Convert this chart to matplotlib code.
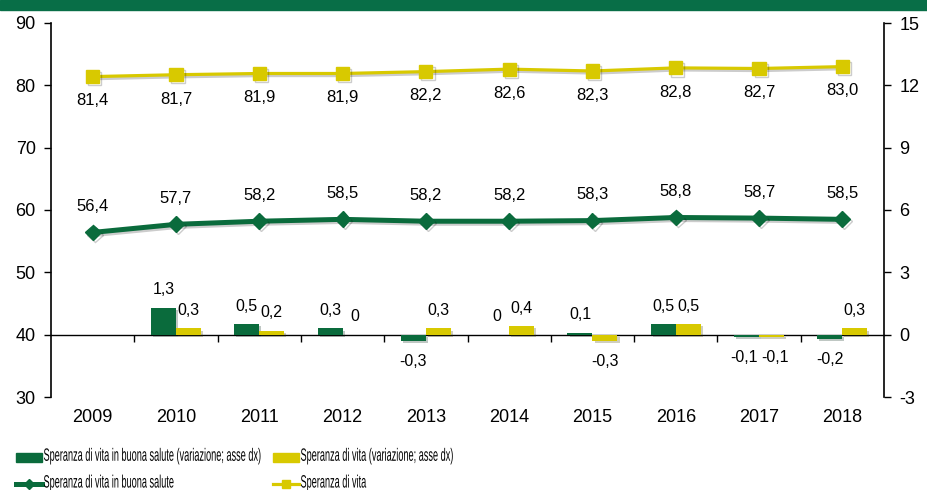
import matplotlib
matplotlib.use("Agg")
import matplotlib.pyplot as plt
import matplotlib.patheffects as pe
from matplotlib.patches import Patch
from matplotlib.lines import Line2D
from matplotlib.transforms import Affine2D

years = ["2009", "2010", "2011", "2012", "2013", "2014", "2015", "2016", "2017", "2018"]
healthy_life = [56.4, 57.7, 58.2, 58.5, 58.2, 58.2, 58.3, 58.8, 58.7, 58.5]
life_exp = [81.4, 81.7, 81.9, 81.9, 82.2, 82.6, 82.3, 82.8, 82.7, 83.0]
healthy_var = [None, 1.3, 0.5, 0.3, -0.3, 0.0, 0.1, 0.5, -0.1, -0.2]
life_var = [None, 0.3, 0.2, 0.0, 0.3, 0.4, -0.3, 0.5, -0.1, 0.3]

left_ticks = [30, 40, 50, 60, 70, 80, 90]
right_ticks = [-3, 0, 3, 6, 9, 12, 15]

GREEN = "#0a6b3c"
YELLOW = "#d8c900"
BANNER = "#086e47"

plt.rcParams['font.family'] = ['Liberation Sans', 'DejaVu Sans']
plt.rcParams['axes.unicode_minus'] = False


class Stretch(pe.AbstractPathEffect):
    """Stretch text glyphs vertically from the baseline (condensed look)."""
    def __init__(self, sx, sy):
        super().__init__()
        self.sx, self.sy = sx, sy

    def draw_path(self, renderer, gc, tpath, affine, rgbFace=None):
        renderer.draw_path(gc, tpath, Affine2D().scale(self.sx, self.sy) + affine, rgbFace)


fig = plt.figure(figsize=(9.27, 4.90), dpi=100)
W, H = 927, 490
ax = fig.add_axes([51 / W, 1 - 397 / H, (884 - 51) / W, (397 - 23) / H])
ax2 = ax.twinx()

# banner
fig.patches.append(plt.Rectangle((0, 1 - 10 / H), 1, 10 / H, transform=fig.transFigure,
                                 color=BANNER, zorder=0))

x = list(range(len(years)))
bar_shadow = [pe.SimplePatchShadow(offset=(1.5, -1.5), alpha=0.25), pe.Normal()]
line_shadow = [pe.SimpleLineShadow(offset=(1.5, -1.5), alpha=0.2), pe.Normal()]

# lines (left axis)
ax.plot(x, life_exp, color=YELLOW, lw=2.3, marker='s', markersize=9.5,
        markeredgecolor=YELLOW, zorder=3, path_effects=line_shadow)
ax.plot(x, healthy_life, color=GREEN, lw=3.6, marker='D', markersize=8,
        markeredgecolor=GREEN, zorder=3, path_effects=line_shadow)


def fmt(v):
    if v == 0:
        return "0"
    return f"{v:.1f}".replace('.', ',')


for xi, v in zip(x, life_exp):
    ax.annotate(fmt(v), (xi, v), xytext=(0, -17.5), textcoords='offset points',
                ha='center', va='center', fontsize=12)
for xi, v in zip(x, healthy_life):
    ax.annotate(fmt(v), (xi, v), xytext=(0, 18.5), textcoords='offset points',
                ha='center', va='center', fontsize=12)

# bars (right axis)
bw = 0.3
for series, off, col in [(healthy_var, -bw / 2, GREEN), (life_var, bw / 2, YELLOW)]:
    xs = [xi + off for xi, v in zip(x, series) if v is not None]
    vs = [v for v in series if v is not None]
    bars = ax2.bar(xs, vs, width=bw, color=col, zorder=2)
    for b in bars:
        b.set_path_effects(bar_shadow)

for xi, g, y in zip(x, healthy_var, life_var):
    if g is None:
        continue
    both_neg = g < 0 and y < 0
    for v, off, nudge in [(g, -bw / 2, -1.5 if both_neg else 0),
                          (y, bw / 2, 2.5 if both_neg else 0)]:
        dy = 13 if v >= 0 else -15
        ax2.annotate(fmt(v), (xi + off, v), xytext=(nudge, dy), textcoords='offset points',
                     ha='center', va='center', fontsize=11.5)

ax.set_xlim(-0.5, len(years) - 0.5)
ax.set_ylim(30, 90)
ax2.set_ylim(-3, 15)
ax.set_yticks(left_ticks)
ax2.set_yticks(right_ticks)
ax.tick_params(axis='y', labelsize=13, length=5, width=1, direction='out', pad=6)
ax2.tick_params(axis='y', labelsize=13, length=5, width=1, direction='out', pad=6)

for a in (ax, ax2):
    a.spines['top'].set_visible(False)
ax.spines['right'].set_visible(False)
ax2.spines['left'].set_visible(False)
ax2.spines['bottom'].set_visible(False)
ax.spines['left'].set_linewidth(1.2)
ax2.spines['right'].set_linewidth(1.2)

# category axis crossing at 40 (left) / 0 (right)
ax.spines['bottom'].set_position(('data', 40))
ax.spines['bottom'].set_linewidth(1.0)
ax.set_xticks([i - 0.5 for i in range(1, len(years))])
ax.set_xticklabels([])
ax.tick_params(axis='x', length=5, width=1, direction='out')

sec = ax.secondary_xaxis('bottom')
sec.set_xticks(x)
sec.set_xticklabels(years)
sec.tick_params(axis='x', length=0, labelsize=13, pad=9)
sec.spines['bottom'].set_visible(False)

# legends (condensed text: small font, stretched vertically)
LFS = 6.6
lfont = {'size': LFS}
h1 = [Patch(facecolor=GREEN, edgecolor=GREEN),
      Line2D([0], [0], color=GREEN, lw=3.6, marker='D', markersize=5)]
l1 = ["Speranza di vita in buona salute (variazione; asse dx)",
      "Speranza di vita in buona salute"]
h2 = [Patch(facecolor=YELLOW, edgecolor=YELLOW),
      Line2D([0], [0], color=YELLOW, lw=2.3, marker='s', markersize=6)]
l2 = ["Speranza di vita (variazione; asse dx)", "Speranza di vita"]
for hs, ls, xa in [(h1, l1, 16 / W), (h2, l2, 273 / W)]:
    leg = fig.legend(hs, ls, loc='upper left', bbox_to_anchor=(xa, 1 - 453 / H),
                     frameon=False, prop=lfont, handlelength=2.8, handleheight=1.2,
                     handletextpad=0.2, labelspacing=1.85, borderpad=0, borderaxespad=0)
    for t in leg.get_texts():
        t.set_path_effects([Stretch(1.0, 1.95)])

fig.savefig("out.png", dpi=100)
